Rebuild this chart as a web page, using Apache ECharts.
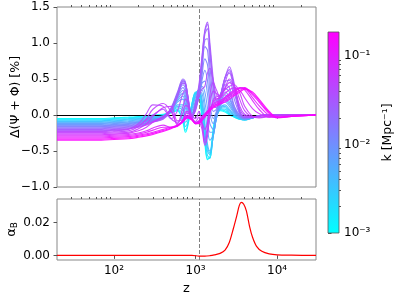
<!DOCTYPE html>
<html><head><meta charset="utf-8">
<script src="https://cdn.jsdelivr.net/npm/echarts@6/dist/echarts.min.js"></script>
<style>html,body{margin:0;padding:0;background:#fff}#c{width:399px;height:299px}</style>
</head><body><div id="c"></div>
<script>
// ---------- data ----------
const Z = [20, 40, 70, 100, 150, 200, 250, 300, 400, 500, 600, 700, 750, 800, 900, 1000, 1100, 1200, 1300, 1400, 1500, 1650, 1800, 2000, 2300, 2600, 3000, 3500, 4000, 5000, 6000, 8000, 10000, 15000, 30000];
const DPSI_K0010 = [-0.05,-0.05,-0.05,-0.04,-0.03,-0.02,-0.01,0.00,0.01,0.03,0.06,-0.10,-0.24,-0.16,0.15,0.30,0.26,-0.05,-0.40,-0.62,-0.58,-0.18,0.02,0.06,0.04,0.00,-0.03,-0.06,-0.06,-0.03,-0.01,0,0,0,0];
const DPSI_K0014 = [-0.06,-0.06,-0.06,-0.05,-0.04,-0.03,-0.02,-0.01,0.00,0.03,0.07,-0.06,-0.21,-0.14,0.14,0.31,0.29,0.00,-0.35,-0.60,-0.60,-0.22,0.00,0.07,0.06,0.01,-0.03,-0.06,-0.07,-0.03,-0.01,0,0,0,0];
const DPSI_K0020 = [-0.07,-0.07,-0.07,-0.06,-0.05,-0.04,-0.03,-0.02,0.00,0.04,0.08,0.00,-0.16,-0.10,0.14,0.32,0.32,0.06,-0.30,-0.56,-0.60,-0.26,-0.02,0.08,0.08,0.02,-0.02,-0.06,-0.07,-0.04,-0.01,0,0,0,0];
const DPSI_K0028 = [-0.08,-0.08,-0.08,-0.07,-0.06,-0.05,-0.04,-0.03,-0.01,0.04,0.10,0.06,-0.10,-0.06,0.12,0.30,0.34,0.12,-0.22,-0.50,-0.55,-0.28,-0.04,0.08,0.10,0.04,-0.01,-0.05,-0.07,-0.04,-0.01,0,0,0,0];
const DPSI_K0034 = [-0.09,-0.09,-0.09,-0.08,-0.07,-0.06,-0.05,-0.035,-0.015,0.045,0.12,0.10,-0.05,-0.045,0.10,0.28,0.35,0.17,-0.16,-0.45,-0.53,-0.29,-0.045,0.09,0.12,0.06,-0.005,-0.05,-0.065,-0.04,-0.01,0,0,0,0];
const DPSI_K0040 = [-0.10,-0.10,-0.10,-0.09,-0.08,-0.07,-0.06,-0.04,-0.02,0.05,0.14,0.14,0.00,-0.03,0.08,0.25,0.35,0.22,-0.10,-0.40,-0.50,-0.30,-0.05,0.10,0.14,0.08,0.00,-0.05,-0.06,-0.04,-0.01,0,0,0,0];
const DPSI_K0056 = [-0.11,-0.11,-0.11,-0.10,-0.09,-0.08,-0.07,-0.05,-0.03,0.06,0.18,0.22,0.10,0.02,0.05,0.20,0.32,0.30,0.05,-0.20,-0.35,-0.28,-0.05,0.12,0.18,0.12,0.02,-0.04,-0.06,-0.04,-0.01,0,0,0,0];
const DPSI_K0067 = [-0.12,-0.12,-0.12,-0.11,-0.10,-0.09,-0.075,-0.055,-0.03,0.065,0.20,0.26,0.16,0.05,0.03,0.17,0.30,0.35,0.18,-0.05,-0.24,-0.24,-0.035,0.135,0.21,0.15,0.035,-0.035,-0.055,-0.04,-0.01,0,0,0,0];
const DPSI_K0080 = [-0.13,-0.13,-0.13,-0.12,-0.11,-0.10,-0.08,-0.06,-0.03,0.07,0.22,0.30,0.22,0.08,0.02,0.15,0.28,0.40,0.32,0.10,-0.12,-0.20,-0.02,0.15,0.24,0.18,0.05,-0.03,-0.05,-0.04,-0.01,0,0,0,0];
const DPSI_K0095 = [-0.14,-0.14,-0.14,-0.13,-0.12,-0.105,-0.085,-0.065,-0.03,0.075,0.24,0.34,0.27,0.12,0.00,0.12,0.26,0.44,0.47,0.29,0.02,-0.12,0.02,0.17,0.28,0.22,0.065,-0.025,-0.05,-0.04,-0.01,0,0,0,0];
const DPSI_K0110 = [-0.15,-0.15,-0.15,-0.14,-0.13,-0.11,-0.09,-0.07,-0.03,0.08,0.26,0.38,0.32,0.15,-0.02,0.10,0.25,0.48,0.62,0.48,0.15,-0.05,0.05,0.20,0.32,0.25,0.08,-0.02,-0.05,-0.04,-0.01,0,0,0,0];
const DPSI_K0130 = [-0.16,-0.16,-0.16,-0.15,-0.14,-0.12,-0.10,-0.075,-0.035,0.08,0.27,0.42,0.37,0.20,-0.03,0.09,0.26,0.55,0.78,0.70,0.33,0.05,0.08,0.22,0.37,0.32,0.10,-0.01,-0.045,-0.035,-0.01,0,0,0,0];
const DPSI_K0160 = [-0.17,-0.17,-0.17,-0.16,-0.15,-0.13,-0.11,-0.08,-0.04,0.08,0.28,0.45,0.42,0.24,-0.04,0.08,0.28,0.62,0.95,0.90,0.50,0.14,0.10,0.25,0.42,0.38,0.12,0.00,-0.04,-0.03,-0.01,0,0,0,0];
const DPSI_K0190 = [-0.18,-0.18,-0.18,-0.17,-0.16,-0.14,-0.115,-0.085,-0.04,0.09,0.30,0.48,0.44,0.26,-0.045,0.10,0.31,0.68,1.04,1.06,0.68,0.24,0.14,0.25,0.47,0.48,0.21,0.015,-0.035,-0.03,-0.01,0,0,0,0];
const DPSI_K0220 = [-0.19,-0.19,-0.19,-0.18,-0.17,-0.15,-0.12,-0.09,-0.04,0.10,0.32,0.50,0.46,0.28,-0.05,0.12,0.35,0.75,1.12,1.20,0.85,0.35,0.18,0.26,0.52,0.58,0.30,0.03,-0.03,-0.03,-0.01,0,0,0,0];
const DPSI_K0260 = [-0.20,-0.20,-0.20,-0.19,-0.18,-0.16,-0.13,-0.095,-0.05,0.08,0.29,0.47,0.45,0.28,-0.035,0.15,0.38,0.79,1.16,1.26,0.93,0.43,0.20,0.26,0.52,0.63,0.36,0.04,-0.03,-0.03,-0.01,0,0,0,0];
const DPSI_K0310 = [-0.21,-0.21,-0.21,-0.20,-0.19,-0.17,-0.14,-0.10,-0.06,0.05,0.25,0.44,0.43,0.28,-0.02,0.18,0.42,0.82,1.18,1.29,1.00,0.50,0.22,0.26,0.52,0.67,0.42,0.05,-0.03,-0.03,-0.01,0,0,0,0];
const DPSI_K0370 = [-0.22,-0.22,-0.22,-0.21,-0.195,-0.15,-0.07,0.00,0.08,-0.05,0.06,0.30,0.34,0.24,-0.01,0.06,0.25,0.36,0.40,0.58,0.65,0.48,0.28,0.25,0.45,0.60,0.40,0.08,-0.01,-0.03,-0.015,0,0,0,0];
const DPSI_K0440 = [-0.23,-0.23,-0.23,-0.22,-0.20,-0.12,0.02,0.14,0.12,-0.05,-0.10,0.12,0.22,0.18,0.00,-0.05,0.05,-0.10,-0.35,-0.12,0.28,0.45,0.35,0.25,0.38,0.50,0.38,0.12,0.01,-0.03,-0.02,-0.01,0,0,0];
const DPSI_K0520 = [-0.245,-0.245,-0.245,-0.235,-0.22,-0.16,-0.05,0.08,0.16,0.05,-0.12,0.03,0.13,0.12,-0.03,-0.09,-0.03,-0.15,-0.39,-0.22,0.14,0.33,0.30,0.27,0.37,0.45,0.40,0.21,0.06,-0.025,-0.03,-0.015,-0.005,0,0];
const DPSI_K0620 = [-0.26,-0.26,-0.26,-0.25,-0.24,-0.19,-0.12,-0.02,0.10,0.12,-0.08,-0.06,0.04,0.05,-0.05,-0.12,-0.10,-0.20,-0.42,-0.30,0.00,0.20,0.25,0.28,0.35,0.40,0.42,0.30,0.12,-0.02,-0.04,-0.02,-0.01,0,0];
const DPSI_K0740 = [-0.275,-0.275,-0.275,-0.265,-0.255,-0.22,-0.17,-0.10,-0.02,0.06,-0.14,-0.07,0.01,0.03,-0.05,-0.11,-0.09,-0.11,-0.20,-0.12,0.05,0.18,0.22,0.24,0.30,0.35,0.38,0.34,0.24,0.09,0.02,-0.03,-0.02,-0.01,0];
const DPSI_K0880 = [-0.29,-0.29,-0.29,-0.28,-0.27,-0.25,-0.22,-0.18,-0.14,-0.17,-0.16,-0.08,-0.02,0.00,-0.05,-0.10,-0.08,-0.02,0.02,0.05,0.10,0.15,0.18,0.20,0.25,0.30,0.35,0.38,0.35,0.20,0.08,-0.03,-0.03,-0.01,0];
const DPSI_K1050 = [-0.305,-0.305,-0.305,-0.295,-0.285,-0.265,-0.24,-0.21,-0.17,-0.17,-0.15,-0.08,-0.03,-0.01,-0.055,-0.11,-0.09,-0.035,0.01,0.05,0.09,0.135,0.165,0.185,0.235,0.285,0.335,0.375,0.37,0.24,0.13,-0.005,-0.035,-0.015,0];
const DPSI_K1250 = [-0.32,-0.32,-0.32,-0.31,-0.30,-0.28,-0.26,-0.24,-0.20,-0.17,-0.14,-0.08,-0.04,-0.02,-0.06,-0.12,-0.10,-0.05,0.00,0.05,0.08,0.12,0.15,0.17,0.22,0.27,0.32,0.37,0.38,0.28,0.18,0.02,-0.04,-0.02,0];
const DPSI_K1500 = [-0.335,-0.335,-0.335,-0.325,-0.315,-0.295,-0.275,-0.255,-0.215,-0.18,-0.145,-0.09,-0.05,-0.03,-0.065,-0.12,-0.11,-0.065,-0.015,0.035,0.07,0.11,0.135,0.16,0.20,0.245,0.295,0.345,0.37,0.30,0.20,0.035,-0.035,-0.02,0];
const DPSI_K1800 = [-0.35,-0.35,-0.35,-0.34,-0.33,-0.31,-0.29,-0.27,-0.23,-0.19,-0.15,-0.10,-0.06,-0.04,-0.07,-0.12,-0.12,-0.08,-0.03,0.02,0.06,0.10,0.12,0.15,0.18,0.22,0.27,0.32,0.36,0.32,0.22,0.05,-0.03,-0.02,0];
const K_VALUES = [0.0010, 0.0014, 0.0020, 0.0028, 0.0034, 0.0040, 0.0056, 0.0067, 0.0080, 0.0095, 0.011, 0.013, 0.016, 0.019, 0.022, 0.026, 0.031, 0.037, 0.044, 0.052, 0.062, 0.074, 0.088, 0.105, 0.125, 0.15, 0.18];
const DPSI_CURVES = [DPSI_K0010, DPSI_K0014, DPSI_K0020, DPSI_K0028, DPSI_K0034, DPSI_K0040, DPSI_K0056, DPSI_K0067, DPSI_K0080, DPSI_K0095, DPSI_K0110, DPSI_K0130, DPSI_K0160, DPSI_K0190, DPSI_K0220, DPSI_K0260, DPSI_K0310, DPSI_K0370, DPSI_K0440, DPSI_K0520, DPSI_K0620, DPSI_K0740, DPSI_K0880, DPSI_K1050, DPSI_K1250, DPSI_K1500, DPSI_K1800];

const Z_ALPHA = [20, 100, 500, 900, 1100, 1300, 1500, 1700, 2000, 2300, 2600, 2900, 3200, 3450, 3650, 3900, 4200, 4600, 5000, 5600, 6500, 8000, 10000, 15000, 30000];
const ALPHA_B = [0, 0, 0, 0, -0.0004, -0.0005, -0.0002, 0.0003, 0.0012, 0.0032, 0.008, 0.016, 0.024, 0.0305, 0.0322, 0.031, 0.027, 0.0175, 0.011, 0.0055, 0.0025, 0.0009, 0.0003, 0.0001, 0];

const Z_RECOMB = 1100;
const Z_MIN = 20, Z_MAX = 30000;
const X_TICKS = [100, 1000, 10000];
const X_TICK_LABELS = ['10²', '10³', '10⁴'];
const X_MINOR = [30,40,50,60,70,80,90,200,300,400,500,600,700,800,900,2000,3000,4000,5000,6000,7000,8000,9000,20000];
const Y_TOP_MIN = -1.0, Y_TOP_MAX = 1.5, Y_TOP_STEP = 0.5;
const Y_BOT_TICKS = [0, 0.02];
const K_MIN = 0.001, K_MAX = 0.186;
const K_TICKS = [0.001, 0.01, 0.1];
const K_TICK_LABELS = ['10⁻³', '10⁻²', '10⁻¹'];
const K_MINOR = [0.002,0.003,0.004,0.005,0.006,0.007,0.008,0.009,0.02,0.03,0.04,0.05,0.06,0.07,0.08,0.09];

// ---------- helpers ----------
const FONT = 'DejaVu Sans';
function coolColor(k) {
  const t = (Math.log10(k) - Math.log10(K_MIN)) / (Math.log10(K_MAX) - Math.log10(K_MIN));
  const r = Math.round(255 * t), g = Math.round(255 * (1 - t));
  return 'rgb(' + r + ',' + g + ',255)';
}
const minus = s => s.replace('-', '\u2212');
const labelStyle = { color: '#000', fontFamily: FONT, fontSize: 12 };
const tickStyle = { color: '#555', width: 1 };

const chart = echarts.init(document.getElementById('c'), null, { renderer: 'canvas', width: 399, height: 299 });

const series = [];
DPSI_CURVES.forEach((vals, i) => {
  series.push({
    type: 'line', xAxisIndex: 0, yAxisIndex: 0, smooth: 0.35, symbol: 'none', silent: true,
    data: Z.map((z, j) => [z, vals[j]]),
    lineStyle: { color: coolColor(K_VALUES[i]), width: 1.1, opacity: 0.9 },
    z: 2 + i
  });
});
series.push({
  type: 'line', xAxisIndex: 0, yAxisIndex: 0, data: [], symbol: 'none', silent: true, z: 60,
  markLine: { silent: true, symbol: 'none', label: { show: false }, animation: false,
    data: [
      { yAxis: 0, lineStyle: { color: '#000', width: 1.2, type: 'solid' } },
      { xAxis: Z_RECOMB, lineStyle: { color: '#808080', width: 1, type: [4, 2] } }
    ] }
});
series.push({
  type: 'line', xAxisIndex: 2, yAxisIndex: 1, smooth: 0.3, symbol: 'none', silent: true, z: 5,
  data: Z_ALPHA.map((z, j) => [z, ALPHA_B[j]]),
  lineStyle: { color: '#ff0000', width: 1.2 },
  markLine: { silent: true, symbol: 'none', label: { show: false }, animation: false,
    data: [{ xAxis: Z_RECOMB, lineStyle: { color: '#808080', width: 1, type: [4, 2] } }] }
});
series.push({
  type: 'custom', xAxisIndex: 4, yAxisIndex: 2, silent: true,
  data: [[0, K_MIN, 1, K_MAX]],
  renderItem: function (params, api) {
    const p0 = api.coord([api.value(0), api.value(1)]);
    const p1 = api.coord([api.value(2), api.value(3)]);
    return { type: 'rect',
      shape: { x: p0[0], y: p1[1], width: p1[0] - p0[0], height: p0[1] - p1[1] },
      style: { fill: new echarts.graphic.LinearGradient(0, 0, 0, 1, [
        { offset: 0, color: coolColor(K_MAX) }, { offset: 1, color: coolColor(K_MIN) }]),
        stroke: '#555', lineWidth: 0.8 } };
  }
});

function logX(gridIndex, ticks, len, labels, extra) {
  return Object.assign({
    type: 'log', gridIndex: gridIndex, min: Z_MIN, max: Z_MAX, logBase: 10,
    axisLine: { show: false }, splitLine: { show: false },
    axisTick: { show: true, length: len, lineStyle: tickStyle, customValues: ticks },
    axisLabel: labels ? Object.assign({ show: true, margin: 5, customValues: X_TICKS,
      formatter: v => X_TICK_LABELS[X_TICKS.findIndex(t => Math.abs(t - v) / t < 1e-6)] || '' }, labelStyle)
      : { show: false }
  }, extra || {});
}

const gridBase = { show: true, borderColor: '#888', borderWidth: 1, backgroundColor: 'transparent', containLabel: false, outerBoundsMode: 'none' };
const option = {
  animation: false,
  backgroundColor: '#fff',
  grid: [
    Object.assign({ left: 57, top: 7, width: 259, height: 180 }, gridBase),
    Object.assign({ left: 57, top: 199, width: 259, height: 61 }, gridBase),
    { left: 328, top: 32, width: 11, height: 201, containLabel: false, outerBoundsMode: 'none' }
  ],
  xAxis: [
    logX(0, X_TICKS, 3.5, false),
    logX(0, X_MINOR, 2, false),
    logX(1, X_TICKS, 3.5, true, { name: 'z', nameLocation: 'middle', nameGap: 22, nameMoveOverlap: false,
      nameTextStyle: Object.assign({}, labelStyle, { fontSize: 13 }) }),
    logX(1, X_MINOR, 2, false),
    { type: 'value', gridIndex: 2, min: 0, max: 1, show: false }
  ],
  yAxis: [
    { type: 'value', gridIndex: 0, min: Y_TOP_MIN, max: Y_TOP_MAX, interval: Y_TOP_STEP,
      axisLine: { show: false }, splitLine: { show: false },
      axisTick: { show: true, length: 3.5, lineStyle: tickStyle },
      axisLabel: Object.assign({ margin: 7, formatter: v => minus(v.toFixed(1)) }, labelStyle),
      name: 'Δ(Ψ + Φ) [%]', nameLocation: 'middle', nameRotate: 90, nameGap: 35, nameMoveOverlap: false,
      nameTextStyle: Object.assign({}, labelStyle, { fontSize: 12.5 }) },
    { type: 'value', gridIndex: 1, min: -0.0028, max: 0.0342,
      axisLine: { show: false }, splitLine: { show: false },
      axisTick: { show: true, length: 3.5, lineStyle: tickStyle, customValues: Y_BOT_TICKS },
      axisLabel: Object.assign({ margin: 7, customValues: Y_BOT_TICKS, formatter: v => v.toFixed(2) }, labelStyle),
      name: '{a|α}{b|B}', nameLocation: 'middle', nameRotate: 90, nameGap: 38, nameMoveOverlap: false,
      nameTextStyle: Object.assign({}, labelStyle, { rich: {
        a: { fontFamily: FONT, fontSize: 13, color: '#000' },
        b: { fontFamily: FONT, fontSize: 9, color: '#000', padding: [6, 0, 0, 0] } } }) },
    { type: 'log', gridIndex: 2, min: K_MIN, max: K_MAX, logBase: 10, position: 'right',
      axisLine: { show: false }, splitLine: { show: false },
      axisTick: { show: true, length: 3.5, lineStyle: tickStyle, customValues: K_TICKS },
      axisLabel: Object.assign({ margin: 5, customValues: K_TICKS,
        formatter: v => K_TICK_LABELS[K_TICKS.findIndex(t => Math.abs(t - v) / t < 1e-6)] || '' }, labelStyle),
      name: 'k [Mpc⁻¹]', nameLocation: 'middle', nameRotate: 90, nameGap: 42, nameMoveOverlap: false,
      nameTextStyle: Object.assign({}, labelStyle, { fontSize: 12.5 }) },
    { type: 'log', gridIndex: 2, min: K_MIN, max: K_MAX, logBase: 10, position: 'right',
      axisLine: { show: false }, splitLine: { show: false },
      axisTick: { show: true, length: 2, lineStyle: tickStyle, customValues: K_MINOR },
      axisLabel: { show: false } }
  ],
  series: series
};
chart.setOption(option);
</script>
</body></html>
